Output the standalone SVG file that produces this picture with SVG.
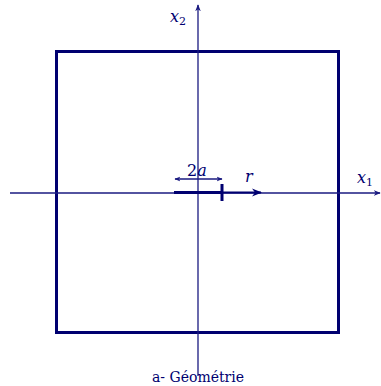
<svg xmlns="http://www.w3.org/2000/svg" width="381" height="386" viewBox="0 0 381 386">
<style>
.ax{stroke:#1a1a80;stroke-width:1.3;fill:none}
.thick{stroke:#000070;stroke-width:3;fill:none}
text{fill:#000070}
.m{font-style:italic}
</style>
<defs>
<marker id="ah" viewBox="0 0 10 10" refX="9" refY="5" markerWidth="7" markerHeight="7" markerUnits="userSpaceOnUse" orient="auto">
<path d="M0,1 L10,5 L0,9 L3,5 Z" fill="#1a1a80"/>
</marker>
<marker id="ahs" viewBox="0 0 10 10" refX="9" refY="5" markerWidth="6" markerHeight="6" markerUnits="userSpaceOnUse" orient="auto-start-reverse">
<path d="M0,1 L10,5 L0,9 L3,5 Z" fill="#1a1a80"/>
</marker>
<marker id="ahb" viewBox="0 0 10 10" refX="9" refY="5" markerWidth="10" markerHeight="10" markerUnits="userSpaceOnUse" orient="auto">
<path d="M0,1 L10,5 L0,9 L3,5 Z" fill="#000070"/>
</marker>
</defs>
<rect width="381" height="386" fill="#ffffff"/>
<g id="square">
<rect x="56.5" y="51.5" width="282" height="281" class="thick"/>
</g>
<g id="connectors">
<line x1="10" y1="193" x2="380" y2="193" class="ax" marker-end="url(#ah)"/>
<line x1="198" y1="376" x2="198" y2="5" class="ax" marker-end="url(#ah)"/>
<line x1="174" y1="192.5" x2="222" y2="192.5" class="thick"/>
<line x1="222" y1="184" x2="222" y2="201" class="thick"/>
<line x1="222" y1="192.5" x2="261" y2="192.5" stroke="#000070" stroke-width="2" marker-end="url(#ahb)"/>
<line x1="175" y1="179" x2="222" y2="179" class="ax" stroke-width="1" marker-start="url(#ahs)" marker-end="url(#ahs)"/>
</g>
<g id="labels" font-family="'DejaVu Serif', serif">
<text x="187" y="176" font-size="16">2<tspan class="m">a</tspan></text>
<text class="m" x="245" y="182" font-size="16">r</text>
<text class="m" x="170" y="22" font-size="16">x<tspan font-size="11" dy="3" font-style="normal">2</tspan></text>
<text class="m" x="357" y="183" font-size="16">x<tspan font-size="11" dy="3" font-style="normal">1</tspan></text>
<text x="198" y="382" font-size="14" text-anchor="middle">a- Géométrie</text>
</g>
</svg>
